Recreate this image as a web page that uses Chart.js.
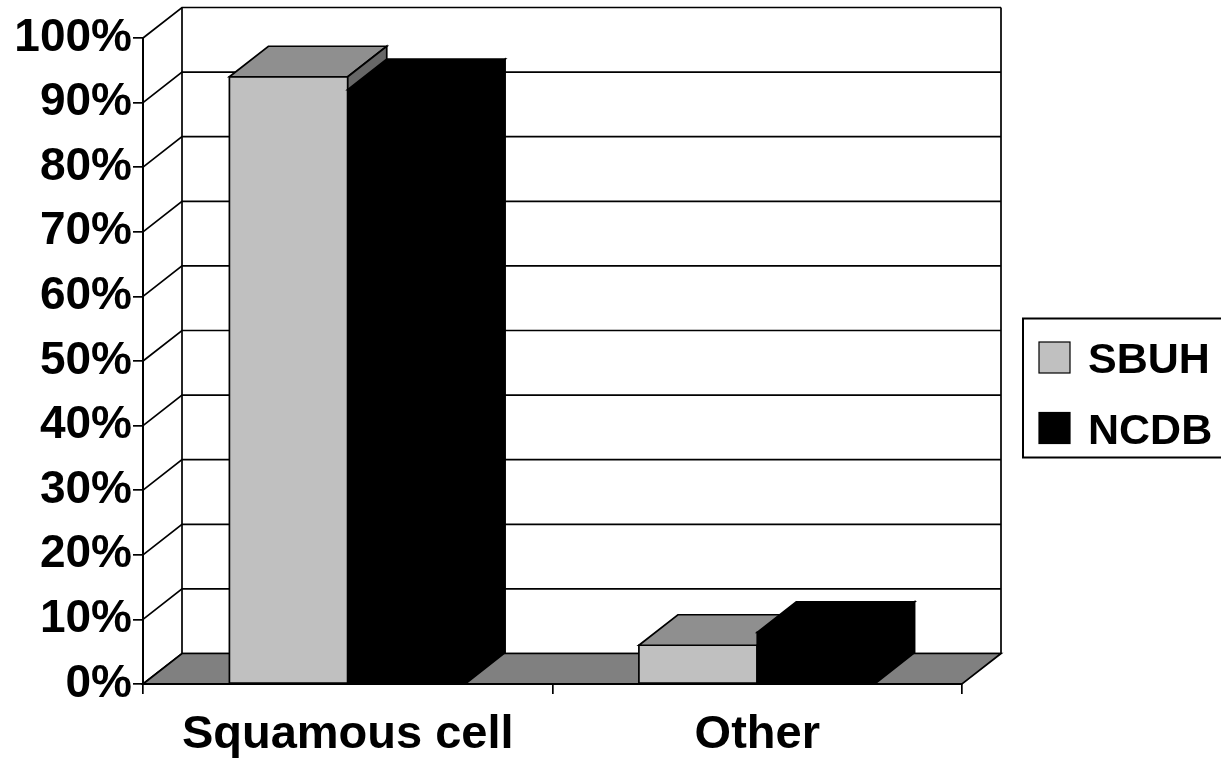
<!DOCTYPE html>
<html>
<head>
<meta charset="utf-8">
<title>Histology: SBUH vs NCDB</title>
<script src="https://cdn.jsdelivr.net/npm/chart.js@4/dist/chart.umd.min.js"></script>
<style>
  html, body { margin: 0; padding: 0; background: #ffffff; overflow: hidden; }
  #wrap { width: 1221px; height: 760px; }
</style>
</head>
<body>
<div id="wrap"><canvas id="chart" width="1221" height="760"></canvas></div>
<script>
// ---- data ----
const categories = ['Squamous cell', 'Other'];
const sbuhValues = [94, 6];
const ncdbValues = [92, 8];
const seriesNames = ['SBUH', 'NCDB'];
const yMin = 0;
const yMax = 100;
const yStep = 10;

// ---- styling ----
const FONT = '"Liberation Sans", Arial, Helvetica, sans-serif';
const DEPTH_X = 39;      // oblique depth of the 3D box
const DEPTH_Y = -30.5;
const LINE = 1.7;

// Walls, floor and back-wall gridlines of the 3D box
const box3d = {
  id: 'box3d',
  beforeDraw(chart) {
    const { ctx, chartArea: a, scales } = chart;
    const y = scales.y;
    ctx.save();
    ctx.lineWidth = LINE;
    ctx.strokeStyle = '#000';
    ctx.lineJoin = 'miter';

    // gridlines: front axis -> back wall, then across the back wall
    y.ticks.forEach(t => {
      const py = y.getPixelForValue(t.value);
      ctx.beginPath();
      ctx.moveTo(a.left, py);
      ctx.lineTo(a.left + DEPTH_X, py + DEPTH_Y);
      ctx.lineTo(a.right + DEPTH_X, py + DEPTH_Y);
      ctx.stroke();
    });

    // back wall vertical edges
    ctx.beginPath();
    ctx.moveTo(a.left + DEPTH_X, a.top + DEPTH_Y);
    ctx.lineTo(a.left + DEPTH_X, a.bottom + DEPTH_Y);
    ctx.moveTo(a.right + DEPTH_X, a.top + DEPTH_Y);
    ctx.lineTo(a.right + DEPTH_X, a.bottom + DEPTH_Y);
    ctx.stroke();

    // floor
    ctx.fillStyle = '#808080';
    ctx.beginPath();
    ctx.moveTo(a.left, a.bottom);
    ctx.lineTo(a.right, a.bottom);
    ctx.lineTo(a.right + DEPTH_X, a.bottom + DEPTH_Y);
    ctx.lineTo(a.left + DEPTH_X, a.bottom + DEPTH_Y);
    ctx.closePath();
    ctx.fill();
    ctx.stroke();
    ctx.restore();
  },

  // Columns drawn as prisms, category by category so nearer faces overlap
  beforeDatasetsDraw(chart) {
    const { ctx } = chart;
    const metas = chart.getSortedVisibleDatasetMetas();
    const poly = (pts, fill) => {
      ctx.beginPath();
      ctx.moveTo(pts[0][0], pts[0][1]);
      for (let k = 1; k < pts.length; k++) ctx.lineTo(pts[k][0], pts[k][1]);
      ctx.closePath();
      ctx.fillStyle = fill;
      ctx.fill();
      ctx.stroke();
    };
    ctx.save();
    ctx.lineWidth = LINE;
    ctx.strokeStyle = '#000';
    ctx.lineJoin = 'miter';
    for (let i = 0; i < chart.data.labels.length; i++) {
      metas.forEach(meta => {
        const ds = chart.data.datasets[meta.index];
        const bar = meta.data[i];
        const { x, y, base, width } = bar.getProps(['x', 'y', 'base', 'width'], true);
        const l = x - width / 2, r = x + width / 2;
        poly([[l, y], [r, y], [r, base], [l, base]], ds.backgroundColor);
        poly([[l, y], [r, y], [r + DEPTH_X, y + DEPTH_Y], [l + DEPTH_X, y + DEPTH_Y]], ds.topColor);
        poly([[r, y], [r + DEPTH_X, y + DEPTH_Y], [r + DEPTH_X, base + DEPTH_Y], [r, base]], ds.sideColor);
      });
    }
    ctx.restore();
    return false;
  }
};

// Boxed legend at the right edge
const boxedLegend = {
  id: 'boxedLegend',
  afterDraw(chart) {
    const { ctx } = chart;
    const left = 1023, top = 318.5, height = 139;
    ctx.save();
    ctx.lineWidth = 2;
    ctx.strokeStyle = '#000';
    ctx.strokeRect(left, top, 300, height);
    ctx.font = 'bold 43px ' + FONT;
    ctx.textBaseline = 'alphabetic';
    ctx.textAlign = 'left';
    chart.data.datasets.forEach((ds, k) => {
      const rowY = top + 23.5 + k * 70.5;
      ctx.fillStyle = ds.backgroundColor;
      ctx.fillRect(1039, rowY, 31, 31);
      ctx.lineWidth = 1.2;
      ctx.strokeRect(1039, rowY, 31, 31);
      ctx.fillStyle = '#000';
      ctx.fillText(ds.label, 1088, rowY + 31);
    });
    ctx.restore();
  }
};

new Chart(document.getElementById('chart'), {
  type: 'bar',
  data: {
    labels: categories,
    datasets: [
      { label: seriesNames[0], data: sbuhValues, backgroundColor: '#c0c0c0', topColor: '#8f8f8f', sideColor: '#676767' },
      { label: seriesNames[1], data: ncdbValues, backgroundColor: '#000000', topColor: '#000000', sideColor: '#000000' }
    ]
  },
  options: {
    responsive: false,
    devicePixelRatio: 1,
    animation: false,
    categoryPercentage: 0.578,
    barPercentage: 1.0,
    layout: { padding: { top: 38, right: 259, left: 0, bottom: 0 } },
    plugins: { legend: { display: false }, tooltip: { enabled: false } },
    scales: {
      x: {
        offset: true,
        grid: { offset: true, drawOnChartArea: false, drawTicks: true, tickLength: 10, color: '#000', lineWidth: LINE },
        border: { display: true, color: '#000', width: 2 },
        ticks: { color: '#000', padding: 13, maxRotation: 0, font: { family: FONT, size: 47, weight: 'bold' } },
        afterFit(scale) { scale.height = 76; }
      },
      y: {
        min: yMin,
        max: yMax,
        grid: { drawOnChartArea: false, drawTicks: true, tickLength: 10, color: '#000', lineWidth: LINE },
        border: { display: true, color: '#000', width: 2 },
        ticks: {
          stepSize: yStep,
          color: '#000',
          padding: 1,
          font: { family: FONT, size: 46, weight: 'bold' },
          callback: v => v + '%'
        },
        afterFit(scale) { scale.width = 143; }
      }
    }
  },
  plugins: [box3d, boxedLegend]
});
</script>
</body>
</html>
